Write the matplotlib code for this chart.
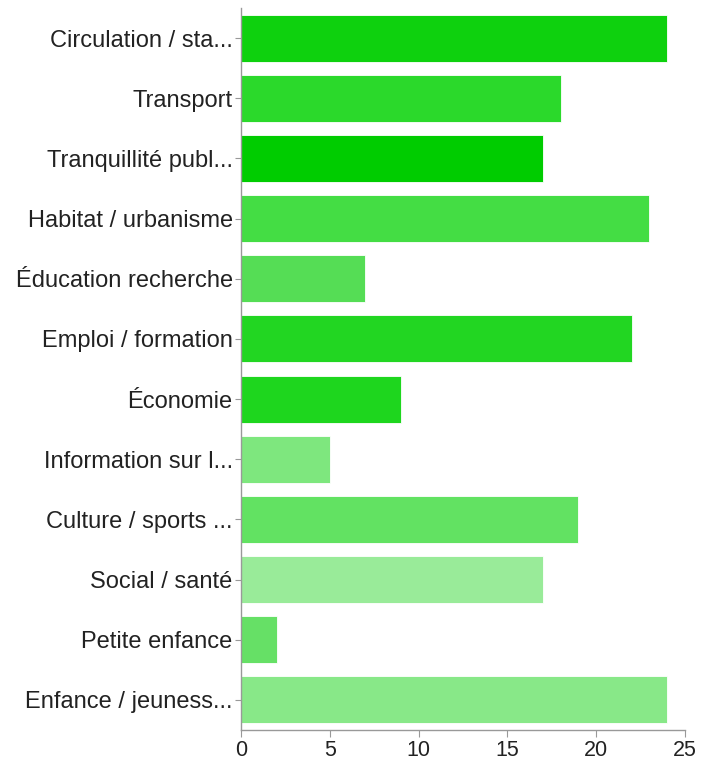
import matplotlib
matplotlib.use("Agg")
import matplotlib.pyplot as plt

categories = ["Circulation / sta...", "Transport", "Tranquillité publ...", "Habitat / urbanisme",
              "Éducation recherche", "Emploi / formation", "Économie", "Information sur l...",
              "Culture / sports ...", "Social / santé", "Petite enfance", "Enfance / jeuness..."]
values = [24, 18, 17, 23, 7, 22, 9, 5, 19, 17, 2, 24]
colors = ["#0ed10e", "#2bd92b", "#00cc00", "#44dd44", "#55dd55", "#22d622",
          "#1ed61e", "#7ee77e", "#62e262", "#99eb99", "#66e066", "#88e888"]
xticks = [0, 5, 10, 15, 20, 25]

plt.rcParams['font.family'] = ['Liberation Sans', 'DejaVu Sans']
fig = plt.figure(figsize=(7.13, 7.63), dpi=100)
ax = fig.add_axes([241/713, 1-730/763, (685-241)/713, (730-8)/763])

ypos = list(range(len(categories)))
ax.barh(ypos, values, height=0.78, color=colors, edgecolor="white", linewidth=0.6)
ax.set_ylim(len(categories) - 0.5, -0.5)
ax.set_xlim(0, 25)
ax.set_yticks(ypos)
ax.set_yticklabels(categories, fontsize=17, color="#222222")
ax.set_xticks(xticks)
ax.set_xticklabels([str(t) for t in xticks], fontsize=15.5, color="#222222")
for s in ["top", "right"]:
    ax.spines[s].set_visible(False)
for s in ["left", "bottom"]:
    ax.spines[s].set_color("#999999")
    ax.spines[s].set_linewidth(1)
ax.tick_params(axis="y", length=4, color="#999999", pad=2)
ax.tick_params(axis="x", length=5, color="#999999", pad=2.5)
fig.savefig("out.png", dpi=100)
